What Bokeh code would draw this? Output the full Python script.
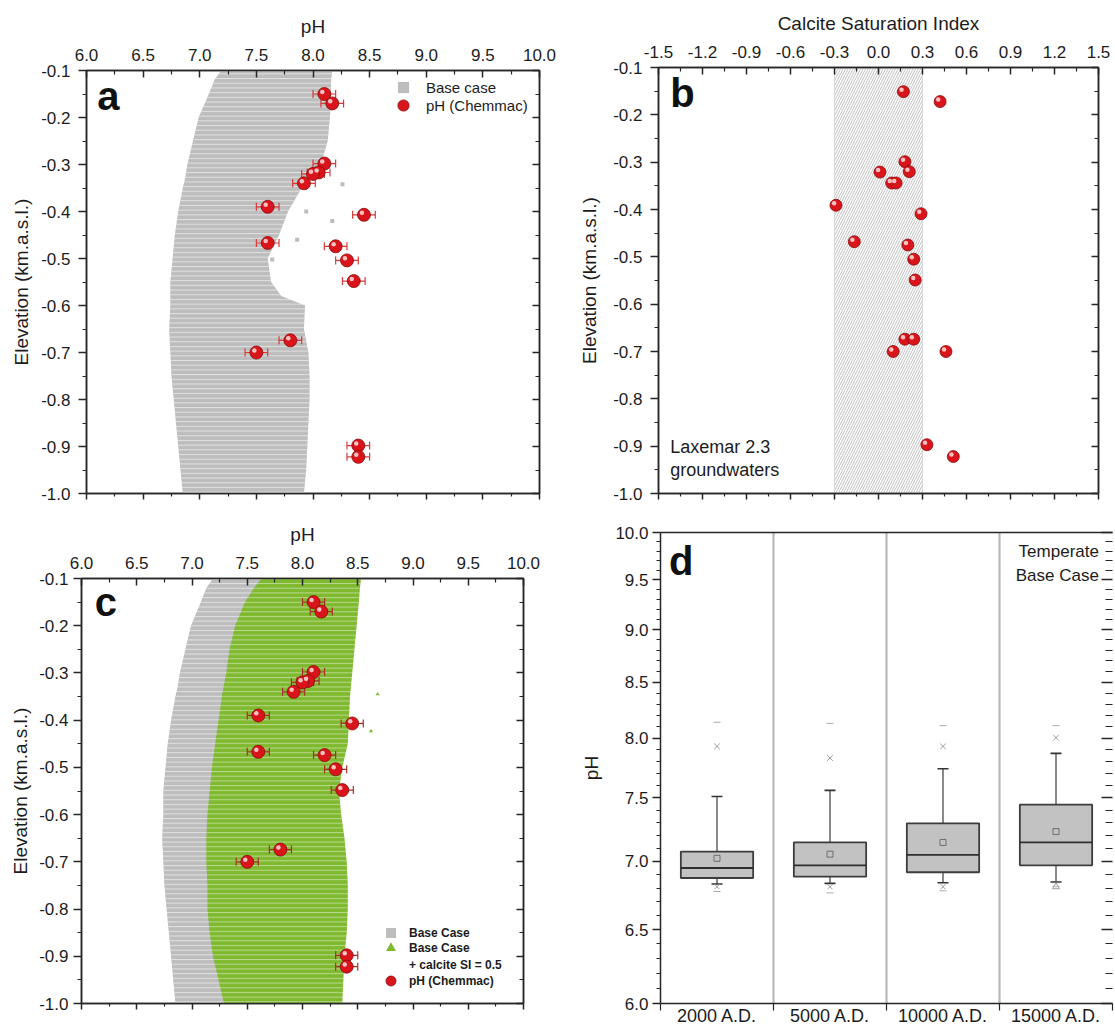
import numpy as np
from bokeh.plotting import figure
from bokeh.layouts import column, row
from bokeh.models import (ColumnDataSource, LinearAxis, LogAxis, FixedTicker,
                          NumeralTickFormatter, CustomJSTickFormatter, Legend,
                          LegendItem, Label, BoxAnnotation, Span, Range1d)
from bokeh.transform import dodge
from bokeh.embed import file_html
from bokeh.resources import INLINE

# ---------------------------------------------------------------- data
# Measured pH (Chemmac) of Laxemar 2.3 groundwaters vs. elevation (km a.s.l.)
chem_elev = [-0.150, -0.170, -0.298, -0.317, -0.320, -0.340, -0.390, -0.407,
             -0.467, -0.474, -0.504, -0.548, -0.674, -0.700, -0.898, -0.922]
chem_ph = [8.10, 8.17, 8.10, 8.05, 8.00, 7.92, 7.60, 8.45,
           7.60, 8.20, 8.30, 8.36, 7.80, 7.50, 8.40, 8.40]
chem_ph_err = [0.1, 0.1, 0.1, 0.1, 0.1, 0.1, 0.1, 0.1,
               0.1, 0.1, 0.1, 0.1, 0.1, 0.1, 0.1, 0.1]

# Calcite saturation index of the same groundwaters
si_elev = [-0.151, -0.172, -0.299, -0.321, -0.320, -0.344, -0.344, -0.391,
           -0.409, -0.468, -0.475, -0.505, -0.549, -0.674, -0.674, -0.700,
           -0.700, -0.897, -0.922]
si_value = [0.17, 0.42, 0.18, 0.01, 0.21, 0.09, 0.12, -0.29,
            0.29, -0.165, 0.20, 0.24, 0.25, 0.18, 0.24, 0.10,
            0.46, 0.33, 0.51]
si_band = [-0.3, 0.3]

# Base case: envelope of simulated pH per elevation
base_elev = [-0.10, -0.12, -0.15, -0.20, -0.25, -0.30, -0.33, -0.35, -0.40,
             -0.45, -0.50, -0.55, -0.58, -0.60, -0.65, -0.70, -0.75, -0.80,
             -0.85, -0.90, -0.95, -1.00]
base_ph_min = [7.19, 7.13, 7.08, 6.99, 6.94, 6.89, 6.87, 6.85, 6.81,
               6.78, 6.76, 6.74, 6.74, 6.74, 6.73, 6.74, 6.75, 6.77,
               6.79, 6.81, 6.83, 6.85]
base_ph_max = [8.17, 8.16, 8.16, 8.15, 8.13, 8.07, 7.98, 7.90, 7.78,
               7.70, 7.60, 7.63, 7.72, 7.93, 7.92, 7.96, 7.97, 7.97,
               7.96, 7.95, 7.94, 7.92]
base_scatter_ph = [8.26, 8.17, 7.94, 7.86, 7.64]
base_scatter_elev = [-0.342, -0.420, -0.400, -0.460, -0.502]

# Base case + calcite SI = 0.5
calc_elev = [-0.10, -0.12, -0.15, -0.20, -0.25, -0.30, -0.35, -0.40, -0.45,
             -0.50, -0.55, -0.60, -0.65, -0.70, -0.75, -0.80, -0.85, -0.90,
             -0.95, -1.00]
calc_ph_min = [7.63, 7.56, 7.48, 7.39, 7.34, 7.31, 7.27, 7.24, 7.21,
               7.18, 7.16, 7.14, 7.13, 7.13, 7.14, 7.14, 7.16, 7.19,
               7.24, 7.29]
calc_ph_max = [8.53, 8.52, 8.51, 8.49, 8.47, 8.45, 8.43, 8.42, 8.41,
               8.36, 8.33, 8.35, 8.38, 8.40, 8.41, 8.41, 8.40, 8.38,
               8.37, 8.36]
calc_scatter_ph = [8.68, 8.62]
calc_scatter_elev = [-0.345, -0.423]

# Temperate base case: simulated pH statistics per period
periods = ["2000 A.D.", "5000 A.D.", "10000 A.D.", "15000 A.D."]
ph_max = [8.14, 8.13, 8.11, 8.11]
ph_p99 = [7.93, 7.83, 7.93, 8.005]
ph_whisk_hi = [7.51, 7.56, 7.74, 7.87]
ph_q3 = [7.075, 7.145, 7.295, 7.445]
ph_mean = [7.023, 7.055, 7.145, 7.23]
ph_median = [6.95, 6.97, 7.05, 7.145]
ph_q1 = [6.875, 6.885, 6.918, 6.97]
ph_whisk_lo = [6.83, 6.835, 6.84, 6.845]
ph_p01 = [6.81, 6.81, 6.81, 6.81]
ph_min = [6.775, 6.765, 6.78, 6.81]
p01_marker = ["x", "x", "x", "triangle"]

# ---------------------------------------------------------------- style
FONT = "Liberation Sans"
INK = "#262626"
TXT = "#1c1c1c"
GRAY = "#bdbdbd"
GREEN = "#7fb92f"
RED = "#d9151b"
RED_EDGE = "#8a0a0a"
HILITE = "#ffd4d4"
ERR = "#d83a3a"
ERR_DARK = "#a8302a"


def frame_fig(x_range, y_range, left, width, right, top, height, bottom,
              y_log=False):
    p = figure(x_range=x_range, y_range=y_range,
               y_axis_type="log" if y_log else "linear",
               frame_width=width, frame_height=height,
               min_border_left=left, min_border_right=right,
               min_border_top=top, min_border_bottom=bottom,
               x_axis_location=None, y_axis_location=None,
               output_backend="svg", toolbar_location=None)
    p.xgrid.visible = False
    p.ygrid.visible = False
    p.outline_line_color = INK
    p.outline_line_width = 1.5
    p.outline_line_alpha = 1.0
    p.background_fill_color = "white"
    p.border_fill_color = "white"
    return p


def add_axis(p, side, ticks, minor, cls=LinearAxis, labels=True, title=None,
             t_in=0, t_out=0, m_in=0, m_out=0, fmt="0.0", size="17px",
             standoff=5, title_standoff=5, overrides=None, line=True):
    ax = cls(ticker=FixedTicker(ticks=ticks, minor_ticks=minor))
    ax.major_tick_in = t_in
    ax.major_tick_out = t_out
    ax.minor_tick_in = m_in
    ax.minor_tick_out = m_out
    ax.axis_line_color = INK if line else None
    ax.axis_line_width = 1.5
    ax.major_tick_line_color = INK
    ax.major_tick_line_width = 1.5
    ax.minor_tick_line_color = INK
    ax.minor_tick_line_width = 1.2
    if labels:
        ax.formatter = NumeralTickFormatter(format=fmt)
        ax.major_label_text_font = FONT
        ax.major_label_text_font_size = size
        ax.major_label_text_color = TXT
        ax.major_label_standoff = standoff
        if overrides:
            ax.major_label_overrides = overrides
    else:
        ax.formatter = CustomJSTickFormatter(code="return ''")
        ax.major_label_text_font_size = "1px"
        ax.major_label_standoff = 0
    if title:
        ax.axis_label = title
        ax.axis_label_text_font = FONT
        ax.axis_label_text_font_size = "19px"
        ax.axis_label_text_font_style = "normal"
        ax.axis_label_text_color = TXT
        ax.axis_label_standoff = title_standoff
    p.add_layout(ax, side)
    return ax


def letter(p, x, y, txt):
    p.add_layout(Label(x=x, y=y, text=txt, text_font=FONT,
                       text_font_size="40px", text_font_style="bold",
                       text_color="#111111", text_baseline="alphabetic"))


def legend_entry(p, label, renderer, x, y, box, size, style, standoff):
    # one legend per entry so that rows can sit closer than the glyph box
    p.add_layout(Legend(
        items=[LegendItem(label=label, renderers=[renderer])],
        location=(x, y), glyph_width=box, glyph_height=box, spacing=0,
        padding=0, margin=0, label_standoff=standoff, label_text_font=FONT,
        label_text_font_size=size, label_text_font_style=style,
        label_text_color=TXT, background_fill_alpha=0,
        border_line_color=None))


ph_ticks = [6.0 + 0.5 * i for i in range(9)]
ph_minor = [6.25 + 0.5 * i for i in range(8)]
el_ticks = [round(-1.0 + 0.1 * i, 2) for i in range(10)]
el_minor = [round(-0.95 + 0.1 * i, 2) for i in range(9)]
si_ticks = [round(-1.5 + 0.3 * i, 2) + 0.0 for i in range(11)]
si_minor = [round(-1.35 + 0.3 * i, 2) for i in range(10)]


def elevation_axes(p, xt, xm, xtitle, left_standoff=8, left_title=6):
    add_axis(p, "above", xt, xm, title=xtitle, t_in=7, m_in=4,
             standoff=10, title_standoff=9)
    add_axis(p, "below", xt, xm, labels=False, t_out=6, m_out=3)
    add_axis(p, "left", el_ticks, el_minor, title="Elevation (km.a.s.l.)",
             t_out=8, m_out=4, standoff=left_standoff,
             title_standoff=left_title)
    add_axis(p, "right", el_ticks, el_minor, labels=False, t_in=7, m_in=4)


def chem_points(p, src, dx, dy, bar_color, size=13):
    p.segment(x0="lo", x1="hi", y0="elev", y1="elev", source=src,
              line_color=bar_color, line_width=1.2)
    for end in ("lo", "hi"):
        p.scatter(x=end, y="elev", source=src, marker="dash", angle=np.pi / 2,
                  size=8, line_color=bar_color, line_width=1.2)
    r = p.scatter(x="ph", y="elev", source=src, size=size, fill_color=RED,
                  line_color=RED_EDGE, line_width=0.8)
    p.scatter(x=dodge("ph", dx), y=dodge("elev", dy), source=src, size=4.5,
              fill_color=HILITE, line_color=None, fill_alpha=0.9)
    return r


chem_src = ColumnDataSource(dict(
    ph=chem_ph, elev=chem_elev,
    lo=[v - e for v, e in zip(chem_ph, chem_ph_err)],
    hi=[v + e for v, e in zip(chem_ph, chem_ph_err)]))
base_src = ColumnDataSource(dict(elev=base_elev, lo=base_ph_min, hi=base_ph_max))
calc_src = ColumnDataSource(dict(elev=calc_elev, lo=calc_ph_min, hi=calc_ph_max))


def base_band(p):
    p.harea(x1="lo", x2="hi", y="elev", source=base_src, fill_color=GRAY,
            hatch_pattern="horizontal_line", hatch_color="white",
            hatch_alpha=0.55, hatch_scale=4.7, hatch_weight=1)
    return p.scatter(x=base_scatter_ph, y=base_scatter_elev, marker="square",
                     size=4, fill_color=GRAY, line_color=None)


# ---------------------------------------------------------------- panel a
pa = frame_fig(Range1d(6, 10), Range1d(-1.0, -0.1), 86, 453, 21, 70, 423, 12)
elevation_axes(pa, ph_ticks, ph_minor, "pH")
base_r_a = base_band(pa)
sph_a = chem_points(pa, chem_src, -0.018, 0.0045, ERR)
letter(pa, 6.094, -0.155, "a")
legend_entry(pa, "Base case", base_r_a, 303, 392, 28, "15px", "normal", 9)
legend_entry(pa, "pH (Chemmac)", sph_a, 303, 374, 28, "15px", "normal", 9)

# ---------------------------------------------------------------- panel b
pb = frame_fig(Range1d(-1.5, 1.5), Range1d(-1.0, -0.1), 98, 440, 17, 67, 426, 12)
elevation_axes(pb, si_ticks, si_minor, "Calcite Saturation Index",
               left_title=10)
pb.add_layout(BoxAnnotation(left=si_band[0], right=si_band[1], fill_alpha=0,
                            hatch_pattern="right_diagonal_line",
                            hatch_color="#b8b8b8", hatch_scale=5,
                            hatch_weight=0.9, line_color="#9c9c9c",
                            line_width=1, level="underlay"))
si_src = ColumnDataSource(dict(si=si_value, elev=si_elev))
pb.scatter(x="si", y="elev", source=si_src, size=12, fill_color=RED,
           line_color=RED_EDGE, line_width=0.8)
pb.scatter(x=dodge("si", -0.013), y=dodge("elev", 0.0042), source=si_src,
           size=4.5, fill_color=HILITE, line_color=None, fill_alpha=0.9)
letter(pb, -1.42, -0.153, "b")
for txt, yy in (("Laxemar 2.3", -0.902), ("groundwaters", -0.951)):
    pb.add_layout(Label(x=-1.42, y=yy, text=txt, text_font=FONT,
                        text_font_size="18px", text_color=TXT,
                        text_baseline="middle"))

# ---------------------------------------------------------------- panel c
pc = frame_fig(Range1d(6, 10), Range1d(-1.0, -0.1), 81, 442, 37, 73, 425, 23)
elevation_axes(pc, ph_ticks, ph_minor, "pH", left_standoff=5, left_title=5)
base_r_c = base_band(pc)
pc.harea(x1="lo", x2="hi", y="elev", source=calc_src, fill_color=GREEN,
         hatch_pattern="horizontal_line", hatch_color="white",
         hatch_alpha=0.45, hatch_scale=4.7, hatch_weight=1)
calc_r = pc.scatter(x=calc_scatter_ph, y=calc_scatter_elev, marker="triangle",
                    size=4, fill_color=GREEN, line_color=None)
sph_c = chem_points(pc, chem_src, -0.018, 0.0045, ERR_DARK)
blank = pc.scatter(x=[], y=[], size=1, fill_alpha=0, line_alpha=0)
letter(pc, 6.12, -0.149, "c")
for lab, rend, yy in (("Base Case", base_r_c, 58),
                      ("Base Case", calc_r, 43),
                      ("+ calcite SI = 0.5", blank, 26),
                      ("pH (Chemmac)", sph_c, 10)):
    legend_entry(pc, lab, rend, 297, yy, 25, "12px", "bold", 6)

# ---------------------------------------------------------------- panel d
pd = frame_fig(Range1d(0, len(periods)), Range1d(6, 10), 100, 452, 3, 27, 471, 23,
               y_log=True)
pd.outline_line_color = None
d_ticks = [6.0 + 0.5 * i for i in range(9)]
d_minor = [round(6.0 + 0.1 * i, 1) for i in range(41) if i % 5]
xpos = [i + 0.5 for i in range(len(periods))]
add_axis(pd, "left", d_ticks, d_minor, cls=LogAxis, title="pH", t_out=8,
         m_out=4, standoff=4, title_standoff=10)
add_axis(pd, "right", d_ticks, d_minor, cls=LogAxis, labels=False, t_in=11,
         m_in=7, line=False)
add_axis(pd, "below", xpos, list(range(len(periods) + 1)), t_out=0, m_out=7,
         size="18px", standoff=-5,
         overrides={x: lab for x, lab in zip(xpos, periods)})
add_axis(pd, "above", [], [], labels=False)

for i in range(1, len(periods)):
    pd.add_layout(Span(location=i, dimension="height", line_color="#b9b9b9",
                       line_width=2.2, level="underlay"))

box_src = ColumnDataSource(dict(
    x=xpos, q1=ph_q1, q3=ph_q3, med=ph_median, mean=ph_mean,
    whi=ph_whisk_hi, wlo=ph_whisk_lo, p99=ph_p99, p01=ph_p01,
    mx=ph_max, mn=ph_min, m01=p01_marker))
pd.segment(x0="x", x1="x", y0="q3", y1="whi", source=box_src,
           line_color="#4a4a4a", line_width=1.3)
pd.segment(x0="x", x1="x", y0="q1", y1="wlo", source=box_src,
           line_color="#4a4a4a", line_width=1.3)
for end in ("whi", "wlo"):
    pd.scatter(x="x", y=end, source=box_src, marker="dash", size=11,
               line_color="#333333", line_width=1.6)
pd.vbar(x="x", width=0.64, top="q3", bottom="q1", source=box_src,
        fill_color="#c2c2c2", line_color="#3c3c3c", line_width=1.8)
pd.segment(x0=dodge("x", -0.32), x1=dodge("x", 0.32), y0="med", y1="med",
           source=box_src, line_color="#2e2e2e", line_width=1.8)
pd.scatter(x="x", y="mean", source=box_src, marker="square", size=6,
           fill_color=None, line_color="#6e6e6e", line_width=1)
pd.scatter(x="x", y="p99", source=box_src, marker="x", size=8,
           line_color="#9a9a9a", line_width=1)
pd.scatter(x="x", y="p01", source=box_src, marker="m01", size=7,
           fill_color=None, line_color="#9a9a9a", line_width=1)
for end in ("mx", "mn"):
    pd.scatter(x="x", y=end, source=box_src, marker="dash", size=7,
               line_color="#ababab", line_width=1)

letter(pd, 0.075, 9.70, "d")
for txt, yy in (("Temperate", 9.80), ("Base Case", 9.545)):
    pd.add_layout(Label(x=3.88, y=yy, text=txt, text_font=FONT,
                        text_font_size="17px", text_color=TXT,
                        text_align="right", text_baseline="middle"))

# each figure sits in its own box so that the frames are not aligned
layout = column(row(column(pa), column(pb)), row(column(pc), column(pd)))
open("out.html", "w").write(file_html(layout, INLINE, title="pH and calcite saturation"))
